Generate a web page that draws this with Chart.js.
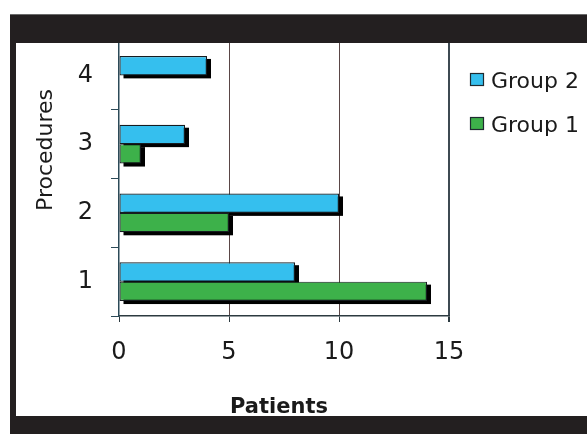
<!DOCTYPE html>
<html>
<head>
<meta charset="utf-8">
<style>
  html, body { margin: 0; padding: 0; background: #fff; }
  #wrap { width: 587px; height: 434px; }
</style>
<script src="https://cdn.jsdelivr.net/npm/chart.js@4/dist/chart.umd.min.js"></script>
</head>
<body>
<div id="wrap"><canvas id="c" width="587" height="434"></canvas></div>
<script>
// Procedures per group, counted in patients
const procedures = ['1', '2', '3', '4'];
const group2 = [8, 10, 3, 4];
const group1 = [14, 5, 1, 0];
const xTicks = [0, 5, 10, 15];

const FONT = 'DejaVu Sans';
const BLUE = '#35bfee';
const GREEN = '#3db14a';

// Frame: white page with a black band across the top, down the left side and along the bottom
const framePlugin = {
  id: 'frame',
  beforeDraw(chart) {
    const ctx = chart.ctx;
    ctx.save();
    ctx.fillStyle = '#ffffff';
    ctx.fillRect(0, 0, chart.width, chart.height);
    ctx.restore();
  },
  afterDraw(chart) {
    const ctx = chart.ctx;
    ctx.save();
    ctx.fillStyle = '#231f20';
    ctx.fillRect(10, 14, chart.width - 10, 29);      // top band
    ctx.fillRect(10, 14, 6, chart.height - 14);      // left band
    ctx.fillRect(10, 416, chart.width - 10, 18);     // bottom band
    ctx.fillStyle = '#6a6a6a';
    ctx.fillRect(10, 14, chart.width - 10, 1);
    ctx.restore();
  }
};

// Drop shadows under every bar, drawn before the bars themselves
const shadowPlugin = {
  id: 'barShadow',
  beforeDatasetsDraw(chart) {
    const ctx = chart.ctx;
    ctx.save();
    ctx.fillStyle = '#000000';
    chart.data.datasets.forEach((ds, i) => {
      const meta = chart.getDatasetMeta(i);
      meta.data.forEach(el => {
        const p = el.getProps(['x', 'y', 'base', 'height'], true);
        const w = p.x - p.base;
        if (w <= 0) return;
        ctx.fillRect(p.base + 4, p.y - p.height / 2 + 3, w, p.height);
      });
    });
    ctx.restore();
  }
};

// Axis titles and the legend on the right
const labelsPlugin = {
  id: 'labels',
  afterDatasetsDraw(chart) {
    const ctx = chart.ctx;
    const area = chart.chartArea;
    ctx.save();
    ctx.fillStyle = '#1a1a1a';

    // x title
    ctx.font = 'bold 21px "' + FONT + '"';
    ctx.textAlign = 'center';
    ctx.textBaseline = 'alphabetic';
    ctx.fillText('Patients', (area.left + area.right) / 2 - 5, 413);

    // y title
    ctx.save();
    ctx.translate(52, 150);
    ctx.rotate(-Math.PI / 2);
    ctx.font = '22px "' + FONT + '"';
    ctx.textAlign = 'center';
    ctx.fillText('Procedures', 0, 0);
    ctx.restore();

    // legend
    const order = [0, 1];
    ctx.font = '22px "' + FONT + '"';
    ctx.textAlign = 'left';
    ctx.textBaseline = 'alphabetic';
    order.forEach((di, k) => {
      const ds = chart.data.datasets[di];
      const y = 73 + k * 44;
      ctx.fillStyle = ds.backgroundColor;
      ctx.fillRect(470, y, 14, 13);
      ctx.strokeStyle = '#1f2a30';
      ctx.lineWidth = 1.2;
      ctx.strokeRect(470.5, y + 0.5, 13, 12);
      ctx.fillStyle = '#1a1a1a';
      ctx.fillText(ds.label, 491, y + 15);
    });
    ctx.restore();
  }
};

new Chart(document.getElementById('c'), {
  type: 'bar',
  data: {
    labels: procedures,
    datasets: [
      { label: 'Group 2', data: group2, backgroundColor: BLUE },
      { label: 'Group 1', data: group1, backgroundColor: GREEN }
    ]
  },
  options: {
    indexAxis: 'y',
    responsive: false,
    animation: false,
    devicePixelRatio: 1,
    layout: { padding: { top: 41, right: 138, bottom: 0, left: 0 } },
    datasets: {
      bar: {
        barPercentage: 1,
        categoryPercentage: 0.565,
        borderColor: '#161c20',
        borderWidth: ctx => (ctx.raw ? 1.2 : 0),
        borderSkipped: false
      }
    },
    plugins: {
      legend: { display: false },
      tooltip: { enabled: false }
    },
    scales: {
      x: {
        type: 'linear',
        min: 0,
        max: 15,
        afterFit(scale) { scale.height = 118; },
        afterBuildTicks(scale) { scale.ticks = xTicks.map(v => ({ value: v })); },
        grid: {
          color: c => (c.tick && c.tick.value === 0 ? 'rgba(0,0,0,0)' : (c.tick && c.tick.value === 15 ? '#3e4a52' : '#5a4646')),
          lineWidth: c => (c.tick && c.tick.value === 15 ? 2 : 1),
          tickColor: '#2c3a40',
          tickLength: 6
        },
        border: { display: true, color: '#2c3a40', width: 1.5 },
        ticks: {
          color: '#1a1a1a',
          font: { family: FONT, size: 24 },
          padding: 16,
          maxRotation: 0
        }
      },
      y: {
        type: 'category',
        reverse: true,
        afterFit(scale) { scale.width = 119; },
        grid: {
          offset: true,
          drawOnChartArea: false,
          tickColor: '#2c4a58',
          tickLength: 8
        },
        border: { display: true, color: '#2c4a58', width: 1.5 },
        ticks: {
          color: '#1a1a1a',
          font: { family: FONT, size: 24 },
          padding: 18
        }
      }
    }
  },
  plugins: [framePlugin, shadowPlugin, labelsPlugin]
});
</script>
</body>
</html>
